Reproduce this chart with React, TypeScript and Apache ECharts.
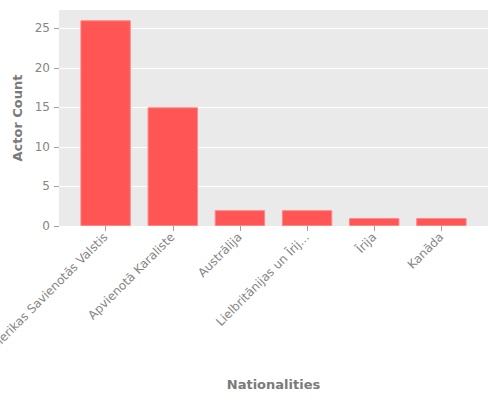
import { useEffect, useRef } from 'react'
import * as echarts from 'echarts'

// Actor counts per nationality (Latvian labels).
const categories = [
  'Amerikas Savienotās Valstis',
  'Apvienotā Karaliste',
  'Austrālija',
  'Lielbritānijas un Īrijas Apvienotā Karaliste',
  'Īrija',
  'Kanāda',
]
const actorCounts = [26, 15, 2, 2, 1, 1]
const yTicks = [0, 5, 10, 15, 20, 25]
const Y_MAX = 27.3

const FONT = 'DejaVu Sans'
const TEXT = '#7a7a7a'
const TICK_TEXT = '#858585'
const PANEL = '#eaeaea'
const BAR = '#ff5555'

// only the really long names get cut, like the source plot
const shorten = (s: string) => (s.length > 30 ? s.slice(0, 22) + '...' : s)

function buildOption(): echarts.EChartsOption {
  return {
    animation: false,
    textStyle: { fontFamily: FONT },
    grid: [
      // grey panel + y axis
      {
        left: 59, right: 12, top: 10, bottom: 174,
        show: true, backgroundColor: PANEL, borderWidth: 0,
        outerBoundsMode: 'none',
      },
      // bars sit in a slightly narrower band so the panel has padding either side
      { left: 72, right: 25, top: 10, bottom: 174, outerBoundsMode: 'none' },
    ],
    xAxis: [
      { gridIndex: 0, type: 'value', show: false, min: 0, max: 1 },
      {
        gridIndex: 1,
        type: 'category',
        data: categories,
        boundaryGap: true,
        axisLine: { show: false },
        axisTick: { show: true, alignWithLabel: true, length: 5, lineStyle: { color: '#a0a0a0' } },
        axisLabel: {
          interval: 0,
          rotate: 45,
          margin: 9,
          fontSize: 12,
          color: TICK_TEXT,
          fontFamily: FONT,
          formatter: (v: string) => shorten(v),
        },
        name: 'Nationalities',
        nameLocation: 'middle',
        nameGap: 152,
        nameTextStyle: { fontSize: 13, fontWeight: 'bold', color: TEXT, fontFamily: FONT },
      },
    ],
    yAxis: [
      {
        gridIndex: 0,
        type: 'value',
        min: 0,
        max: Y_MAX,
        axisLine: { show: false },
        axisTick: { show: true, length: 5, customValues: yTicks, lineStyle: { color: '#a0a0a0' } },
        axisLabel: { customValues: yTicks, margin: 9, fontSize: 12, color: TICK_TEXT, fontFamily: FONT },
        splitLine: { show: true, lineStyle: { color: '#ffffff', width: 1 } },
        name: 'Actor Count',
        nameLocation: 'middle',
        nameGap: 28,
        nameTextStyle: { fontSize: 13, fontWeight: 'bold', color: TEXT, fontFamily: FONT },
      },
      { gridIndex: 1, type: 'value', min: 0, max: Y_MAX, show: false, splitLine: { show: false } },
    ],
    series: [
      {
        type: 'bar',
        xAxisIndex: 1,
        yAxisIndex: 1,
        data: actorCounts,
        barWidth: '75%',
        itemStyle: { color: BAR, borderColor: '#ff8585', borderWidth: 1 },
      },
    ],
  }
}

export default function App() {
  const ref = useRef<HTMLDivElement>(null)

  useEffect(() => {
    const el = ref.current
    if (!el) return
    const chart = echarts.init(el, undefined, { renderer: 'svg' })
    chart.setOption(buildOption())
    return () => chart.dispose()
  }, [])

  return (
    <div
      ref={ref}
      style={{ position: 'absolute', left: 0, top: 0, width: 500, height: 400, background: '#fff' }}
    />
  )
}
